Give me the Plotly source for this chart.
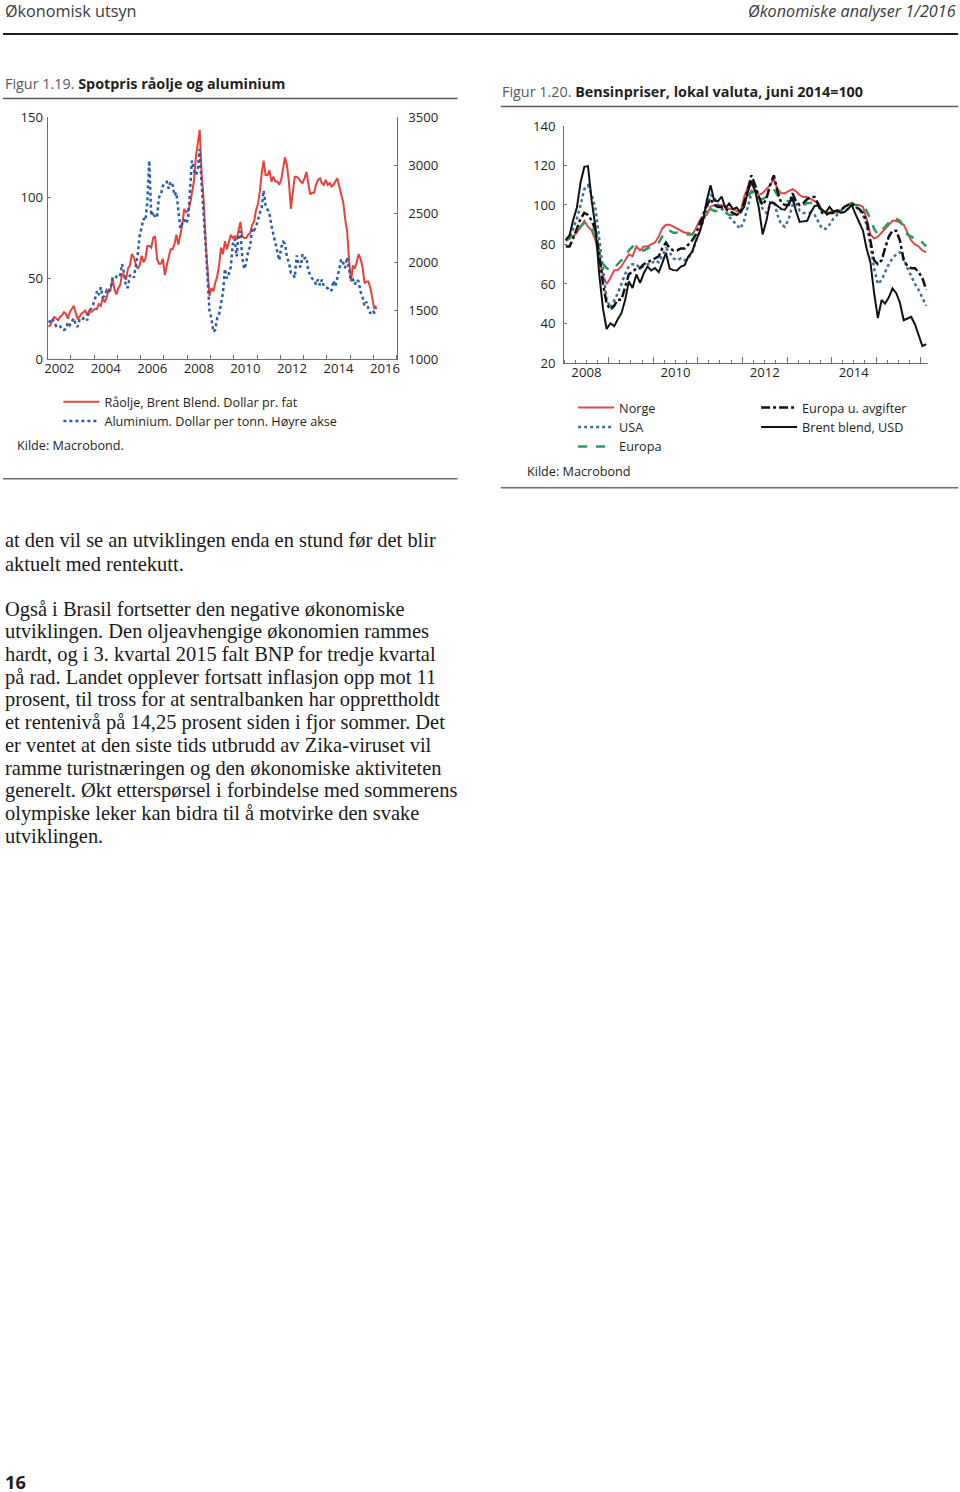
import plotly.graph_objects as go
import pandas as pd

# ---------------- DATA ----------------
# Figure 1.19 (monthly, Jan 2002 - Feb 2016)
brent = [20, 21, 24, 26, 25, 24, 26, 27, 29, 28, 25, 29,
         31, 33, 29, 25, 26, 28, 29, 30, 27, 30, 29, 30,
         31, 31, 34, 33, 38, 35, 38, 43, 43, 50, 43, 40,
         44, 46, 53, 52, 49, 56, 58, 65, 63, 59, 56, 58,
         64, 60, 62, 70, 70, 69, 75, 76, 62, 59, 59, 62,
         52, 58, 62, 68, 68, 71, 77, 71, 77, 83, 93, 91,
         92, 96, 103, 110, 125, 134, 142, 114, 99, 73, 53, 39,
         44, 42, 47, 51, 58, 69, 65, 73, 68, 73, 77, 75,
         76, 74, 79, 85, 76, 75, 75, 77, 78, 83, 85, 92,
         96, 104, 115, 123, 114, 114, 117, 110, 113, 110, 110, 108,
         111, 119, 125, 120, 110, 93, 103, 113, 113, 112, 110, 109,
         112, 116, 109, 102, 103, 103, 108, 111, 112, 109, 108, 111,
         108, 109, 107, 108, 110, 112, 107, 102, 97, 87, 79, 62,
         48, 58, 56, 60, 65, 62, 57, 47, 48, 48, 44, 38,
         31, 33]
aluminium = [1380, 1390, 1420, 1370, 1340, 1350, 1340, 1300, 1300, 1310, 1380, 1350,
             1380, 1420, 1360, 1330, 1400, 1390, 1420, 1430, 1400, 1500, 1520, 1560,
             1620, 1700, 1660, 1740, 1640, 1650, 1710, 1690, 1720, 1830, 1820, 1850,
             1840, 1870, 1980, 1890, 1740, 1740, 1860, 1870, 1840, 1940, 2080, 2270,
             2380, 2450, 2430, 2620, 3050, 2480, 2520, 2460, 2470, 2670, 2700, 2790,
             2820, 2830, 2760, 2830, 2800, 2690, 2720, 2500, 2350, 2400, 2440, 2400,
             2450, 2750, 3050, 2950, 2900, 2950, 3170, 2800, 2530, 2200, 1850, 1500,
             1420, 1280, 1300, 1420, 1460, 1560, 1680, 1930, 1830, 1880, 1950, 2180,
             2240, 2060, 2270, 2320, 2040, 1930, 1990, 2120, 2160, 2350, 2330, 2360,
             2440, 2510, 2560, 2740, 2590, 2550, 2500, 2380, 2290, 2170, 2080, 2020,
             2150, 2210, 2190, 2050, 2000, 1890, 1880, 1840, 2070, 1970, 1950, 2080,
             2040, 2050, 1910, 1860, 1830, 1820, 1770, 1820, 1760, 1820, 1750, 1740,
             1730, 1700, 1710, 1810, 1750, 1840, 1950, 2030, 1990, 1940, 2050, 1910,
             1810, 1820, 1770, 1820, 1800, 1690, 1640, 1550, 1590, 1520, 1470, 1500,
             1480, 1530]

# Figure 1.20 (monthly, Jan 2008 - Feb 2016, June 2014 = 100)
norge = [83, 84, 84, 86, 89, 92, 89, 87, 82, 73, 64, 60,
         63, 67, 67, 69, 72, 75, 74, 79, 77, 79, 79, 80,
         81, 84, 88, 90, 90, 89, 88, 87, 86, 86, 85, 88,
         92, 94, 95, 99, 100, 100, 100, 99, 98, 98, 97, 96,
         104, 109, 111, 107, 105, 106, 108, 110, 113, 108, 106, 106,
         107, 108, 107, 105, 104, 104, 103, 102, 101, 97, 96, 96,
         97, 96, 97, 99, 100, 101, 100, 100, 99, 93, 85, 83,
         84, 86, 88, 90, 92, 92, 91, 90, 86, 82, 80, 79,
         77, 76]
usa = [82, 84, 88, 93, 100, 108, 110, 105, 98, 82, 65, 52,
       48, 52, 55, 60, 65, 69, 70, 70, 68, 69, 70, 70,
       72, 71, 74, 78, 76, 73, 72, 73, 72, 73, 76, 81,
       87, 92, 98, 105, 104, 100, 98, 97, 94, 92, 90, 88,
       92, 100, 106, 108, 104, 98, 96, 100, 102, 95, 90, 89,
       93, 100, 101, 97, 96, 96, 96, 95, 91, 88, 88, 90,
       93, 95, 96, 97, 98, 100, 99, 98, 95, 90, 80, 68,
       60, 62, 66, 70, 73, 75, 76, 73, 68, 64, 60, 57,
       53, 49]
europa = [82, 83, 85, 86, 89, 91, 90, 88, 84, 76, 70, 68,
          67, 68, 70, 72, 74, 77, 79, 78, 77, 77, 78, 79,
          80, 81, 84, 87, 87, 86, 86, 85, 85, 85, 85, 87,
          90, 93, 96, 98, 97, 97, 96, 96, 95, 95, 96, 95,
          101, 104, 107, 105, 103, 103, 104, 106, 108, 105, 103, 102,
          102, 102, 101, 101, 100, 101, 101, 101, 99, 97, 96, 96,
          96, 97, 97, 99, 100, 101, 100, 100, 100, 97, 93, 88,
          85, 87, 89, 91, 93, 93, 92, 89, 85, 84, 83, 83,
          81, 79]
europa_u_avg = [79, 79, 83, 88, 93, 96, 95, 92, 87, 75, 60, 50,
                47, 49, 52, 52, 58, 65, 66, 68, 68, 70, 71, 72,
                73, 74, 78, 81, 78, 77, 77, 78, 78, 80, 82, 85,
                90, 95, 100, 103, 100, 99, 99, 98, 97, 96, 95, 96,
                101, 108, 115, 110, 104, 100, 103, 110, 115, 107, 101, 100,
                100, 106, 102, 100, 101, 103, 104, 104, 100, 96, 95, 96,
                96, 97, 97, 99, 100, 101, 99, 98, 96, 92, 82, 72,
                70, 72, 78, 84, 87, 87, 82, 72, 69, 68, 68, 66,
                63, 57]
brent_usd = [82.2, 84.7, 92.3, 98.7, 111.4, 119.3, 119.7, 101.8, 88.6, 65.1, 47.5, 37.2,
             40.1, 38.6, 42.0, 45.2, 51.7, 61.3, 58.0, 64.8, 60.5, 65.4, 68.8, 66.8,
             68.1, 66.0, 70.4, 75.8, 67.8, 67.0, 66.8, 68.8, 69.5, 73.9, 76.2, 81.8,
             86.1, 92.8, 102.2, 110.0, 102.3, 101.8, 104.3, 98.4, 100.8, 97.9, 98.7, 96.4,
             98.9, 106.6, 112.2, 107.1, 98.6, 85.1, 91.7, 101.3, 101.0, 99.6, 97.9, 97.6,
             100.4, 103.8, 97.0, 91.4, 91.7, 92.0, 96.4, 99.5, 99.7, 97.5, 96.3, 99.0,
             96.6, 97.3, 96.1, 96.3, 98.0, 100.0, 95.5, 91.1, 87.0, 78.0, 71.0, 55.7,
             42.7, 51.9, 50.0, 53.2, 57.7, 55.3, 50.5, 41.6, 42.5, 43.3, 39.6, 34.0,
             28.5, 29.5]

months1 = pd.date_range("2002-01-01", periods=len(brent), freq="MS") + pd.Timedelta(days=14)
months2 = pd.date_range("2008-01-01", periods=len(norge), freq="MS") + pd.Timedelta(days=14)

years1_labels = ["2002", "2004", "2006", "2008", "2010", "2012", "2014", "2016"]
years2_labels = ["2008", "2010", "2012", "2014"]

body_lines = [
    "at den vil se an utviklingen enda en stund før det blir",
    "aktuelt med rentekutt.",
    "",
    "Også i Brasil fortsetter den negative økonomiske",
    "utviklingen. Den oljeavhengige økonomien rammes",
    "hardt, og i 3. kvartal 2015 falt BNP for tredje kvartal",
    "på rad. Landet opplever fortsatt inflasjon opp mot 11",
    "prosent, til tross for at sentralbanken har opprettholdt",
    "et rentenivå på 14,25 prosent siden i fjor sommer. Det",
    "er ventet at den siste tids utbrudd av Zika-viruset vil",
    "ramme turistnæringen og den økonomiske aktiviteten",
    "generelt. Økt etterspørsel i forbindelse med sommerens",
    "olympiske leker kan bidra til å motvirke den svake",
    "utviklingen.",
]

# ---------------- FIGURE ----------------
# Positions below are given in target-picture pixels. The page body keeps the
# browser's 8 px margin and the photograph is reduced slightly (factor S), so
# they are converted to figure pixels here.
S, BODY_M = 0.9885, 8
W = int(round(960 / S - BODY_M))
H = int(round(1492 / S - BODY_M))
def fig_px(p): return p / S - BODY_M
def fx(x): return min(max(fig_px(x) / W, 0.0), 1.0)
def fy(y): return min(max(1 - fig_px(y) / H, 0.0), 1.0)
def fs(size): return round(size / S, 2)

SANS = "Open Sans"
TXT = "#231f20"
AXC = "#6d6e71"

fig = go.Figure()

fig.add_trace(go.Scatter(x=months1, y=brent, mode="lines", name="Råolje, Brent Blend. Dollar pr. fat",
                         line=dict(color="#e8403a", width=2), xaxis="x", yaxis="y", legend="legend"))
fig.add_trace(go.Scatter(x=months1, y=aluminium, mode="lines", name="Aluminium. Dollar per tonn. Høyre akse",
                         line=dict(color="#2b5aa6", width=2.5, dash="dot"), xaxis="x", yaxis="y2", legend="legend"))

fig.add_trace(go.Scatter(x=months2, y=norge, mode="lines", name="Norge",
                         line=dict(color="#e0474c", width=2), xaxis="x3", yaxis="y3", legend="legend2"))
fig.add_trace(go.Scatter(x=months2, y=usa, mode="lines", name="USA",
                         line=dict(color="#3f6f9c", width=2.5, dash="dot"), xaxis="x3", yaxis="y3", legend="legend2"))
fig.add_trace(go.Scatter(x=months2, y=europa, mode="lines", name="Europa",
                         line=dict(color="#2a9a58", width=2.5, dash="dash"), xaxis="x3", yaxis="y3", legend="legend2"))
fig.add_trace(go.Scatter(x=months2, y=europa_u_avg, mode="lines", name="Europa u. avgifter",
                         line=dict(color="#111111", width=2.5, dash="dashdot"), xaxis="x3", yaxis="y3", legend="legend3"))
fig.add_trace(go.Scatter(x=months2, y=brent_usd, mode="lines", name="Brent blend, USD",
                         line=dict(color="#111111", width=2), xaxis="x3", yaxis="y3", legend="legend3"))
# empty trace to materialise the yearly-tick overlay axis
fig.add_trace(go.Scatter(x=[], y=[], xaxis="x4", yaxis="y3", showlegend=False, hoverinfo="skip"))

axfont = dict(family=SANS, size=fs(13), color=TXT)
axline = dict(showline=True, linecolor=AXC, linewidth=1, showgrid=False, zeroline=False)
legfont = dict(family=SANS, size=fs(12.5), color=TXT)

fig.update_layout(
    width=W, height=H, margin=dict(l=0, r=0, t=0, b=0),
    paper_bgcolor="white", plot_bgcolor="rgba(0,0,0,0)",
    font=dict(family=SANS, size=fs(13), color=TXT),
    xaxis=dict(domain=[fx(52.3), fx(399.5)], anchor="y", type="date",
               range=["2002-01-01", "2017-01-01"],
               tickmode="array",
               tickvals=[f"{y}-07-02" for y in years1_labels], ticktext=years1_labels,
               ticks="", tickfont=axfont, ticklabelstandoff=-3,
               minor=dict(dtick="M12", tick0="2002-01-01", ticks="inside", ticklen=4,
                          tickcolor=AXC, showgrid=False),
               **axline),
    yaxis=dict(domain=[fy(358), fy(116)], anchor="x", range=[0, 150],
               tickmode="array", tickvals=[0, 50, 100, 150], ticks="inside", ticklen=3,
               tickcolor=AXC, tickfont=axfont, ticklabelstandoff=1, **axline),
    yaxis2=dict(overlaying="y", anchor="x", side="right", range=[1000, 3500],
                tickmode="array", tickvals=[1000, 1500, 2000, 2500, 3000, 3500],
                ticks="inside", ticklen=3, tickcolor=AXC, tickfont=axfont,
                ticklabelstandoff=8, **axline),
    xaxis3=dict(domain=[fx(566), fx(928)], anchor="y3", type="date",
                range=["2008-01-01", "2016-03-01"],
                tickmode="array",
                tickvals=[f"{y}-07-02" for y in years2_labels], ticktext=years2_labels,
                ticks="", tickfont=axfont, ticklabelstandoff=-3,
                minor=dict(dtick="M3", tick0="2008-01-01", ticks="inside", ticklen=3,
                           tickcolor=AXC, showgrid=False),
                **axline),
    xaxis4=dict(overlaying="x3", anchor="y3", side="bottom", type="date",
                range=["2008-01-01", "2016-03-01"],
                tickmode="array", tickvals=[f"{y}-01-01" for y in range(2009, 2017)],
                ticks="inside", ticklen=6, tickcolor=AXC, showticklabels=False,
                showline=False, showgrid=False, zeroline=False),
    yaxis3=dict(domain=[fy(362), fy(125)], anchor="x3", range=[20, 140],
                tickmode="array", tickvals=[20, 40, 60, 80, 100, 120, 140],
                ticks="inside", ticklen=3, tickcolor=AXC, tickfont=axfont,
                ticklabelstandoff=5, **axline),
    legend=dict(x=fx(63), y=fy(386), xanchor="left", yanchor="top",
                bgcolor="rgba(0,0,0,0)", font=legfont, tracegroupgap=0, itemwidth=36),
    legend2=dict(x=fx(575), y=fy(392), xanchor="left", yanchor="top",
                 bgcolor="rgba(0,0,0,0)", font=legfont, tracegroupgap=0, itemwidth=36),
    legend3=dict(x=fx(757), y=fy(392), xanchor="left", yanchor="top",
                 bgcolor="rgba(0,0,0,0)", font=legfont, tracegroupgap=0, itemwidth=36),
    showlegend=True,
)

annotations = []
def txt(x, y, text, size=13, color=TXT, family=SANS, xanchor="left"):
    annotations.append(dict(x=fx(x), y=fy(y), xref="paper", yref="paper", text=text,
                            showarrow=False, xanchor=xanchor, yanchor="middle",
                            font=dict(family=family, size=fs(size), color=color)))

# page header
txt(5, 10, "Økonomisk utsyn", size=16, color="#3a3a3a")
txt(958, 10, "<i>Økonomiske analyser 1/2016</i>", size=16, color="#3a3a3a", xanchor="right")
# figure titles
txt(5, 82.5, "<span style='color:#58595b'>Figur 1.19.</span> <b>Spotpris råolje og aluminium</b>", size=14.2)
txt(502, 90.5, "<span style='color:#58595b'>Figur 1.20.</span> <b>Bensinpriser, lokal valuta, juni 2014=100</b>", size=14.2)
# sources
txt(20, 444, "Kilde: Macrobond.", size=12.5)
txt(527, 470, "Kilde: Macrobond", size=12.5)
# body text
y0 = 540
for i, line in enumerate(body_lines):
    if line:
        txt(5, y0 + i * 22.75, line, size=20.2, family="Liberation Serif", color="#1a1a1a")
# page number
txt(5, 1482, "<b>16</b>", size=18, color="#1a1a1a")

fig.update_layout(annotations=annotations)

def hline(x0, x1, y, color, width):
    return dict(type="line", xref="paper", yref="paper", x0=fx(x0), x1=fx(x1),
                y0=fy(y), y1=fy(y), line=dict(color=color, width=width))

fig.update_layout(shapes=[
    hline(5, 958, 33, "#231f20", 2),
    hline(5, 460, 97.5, "#58595b", 1.5),
    hline(503, 958, 105.5, "#58595b", 1.5),
    hline(5, 460, 478, AXC, 1.5),
    hline(503, 958, 487, AXC, 1.5),
])

fig.write_html("out.html")
